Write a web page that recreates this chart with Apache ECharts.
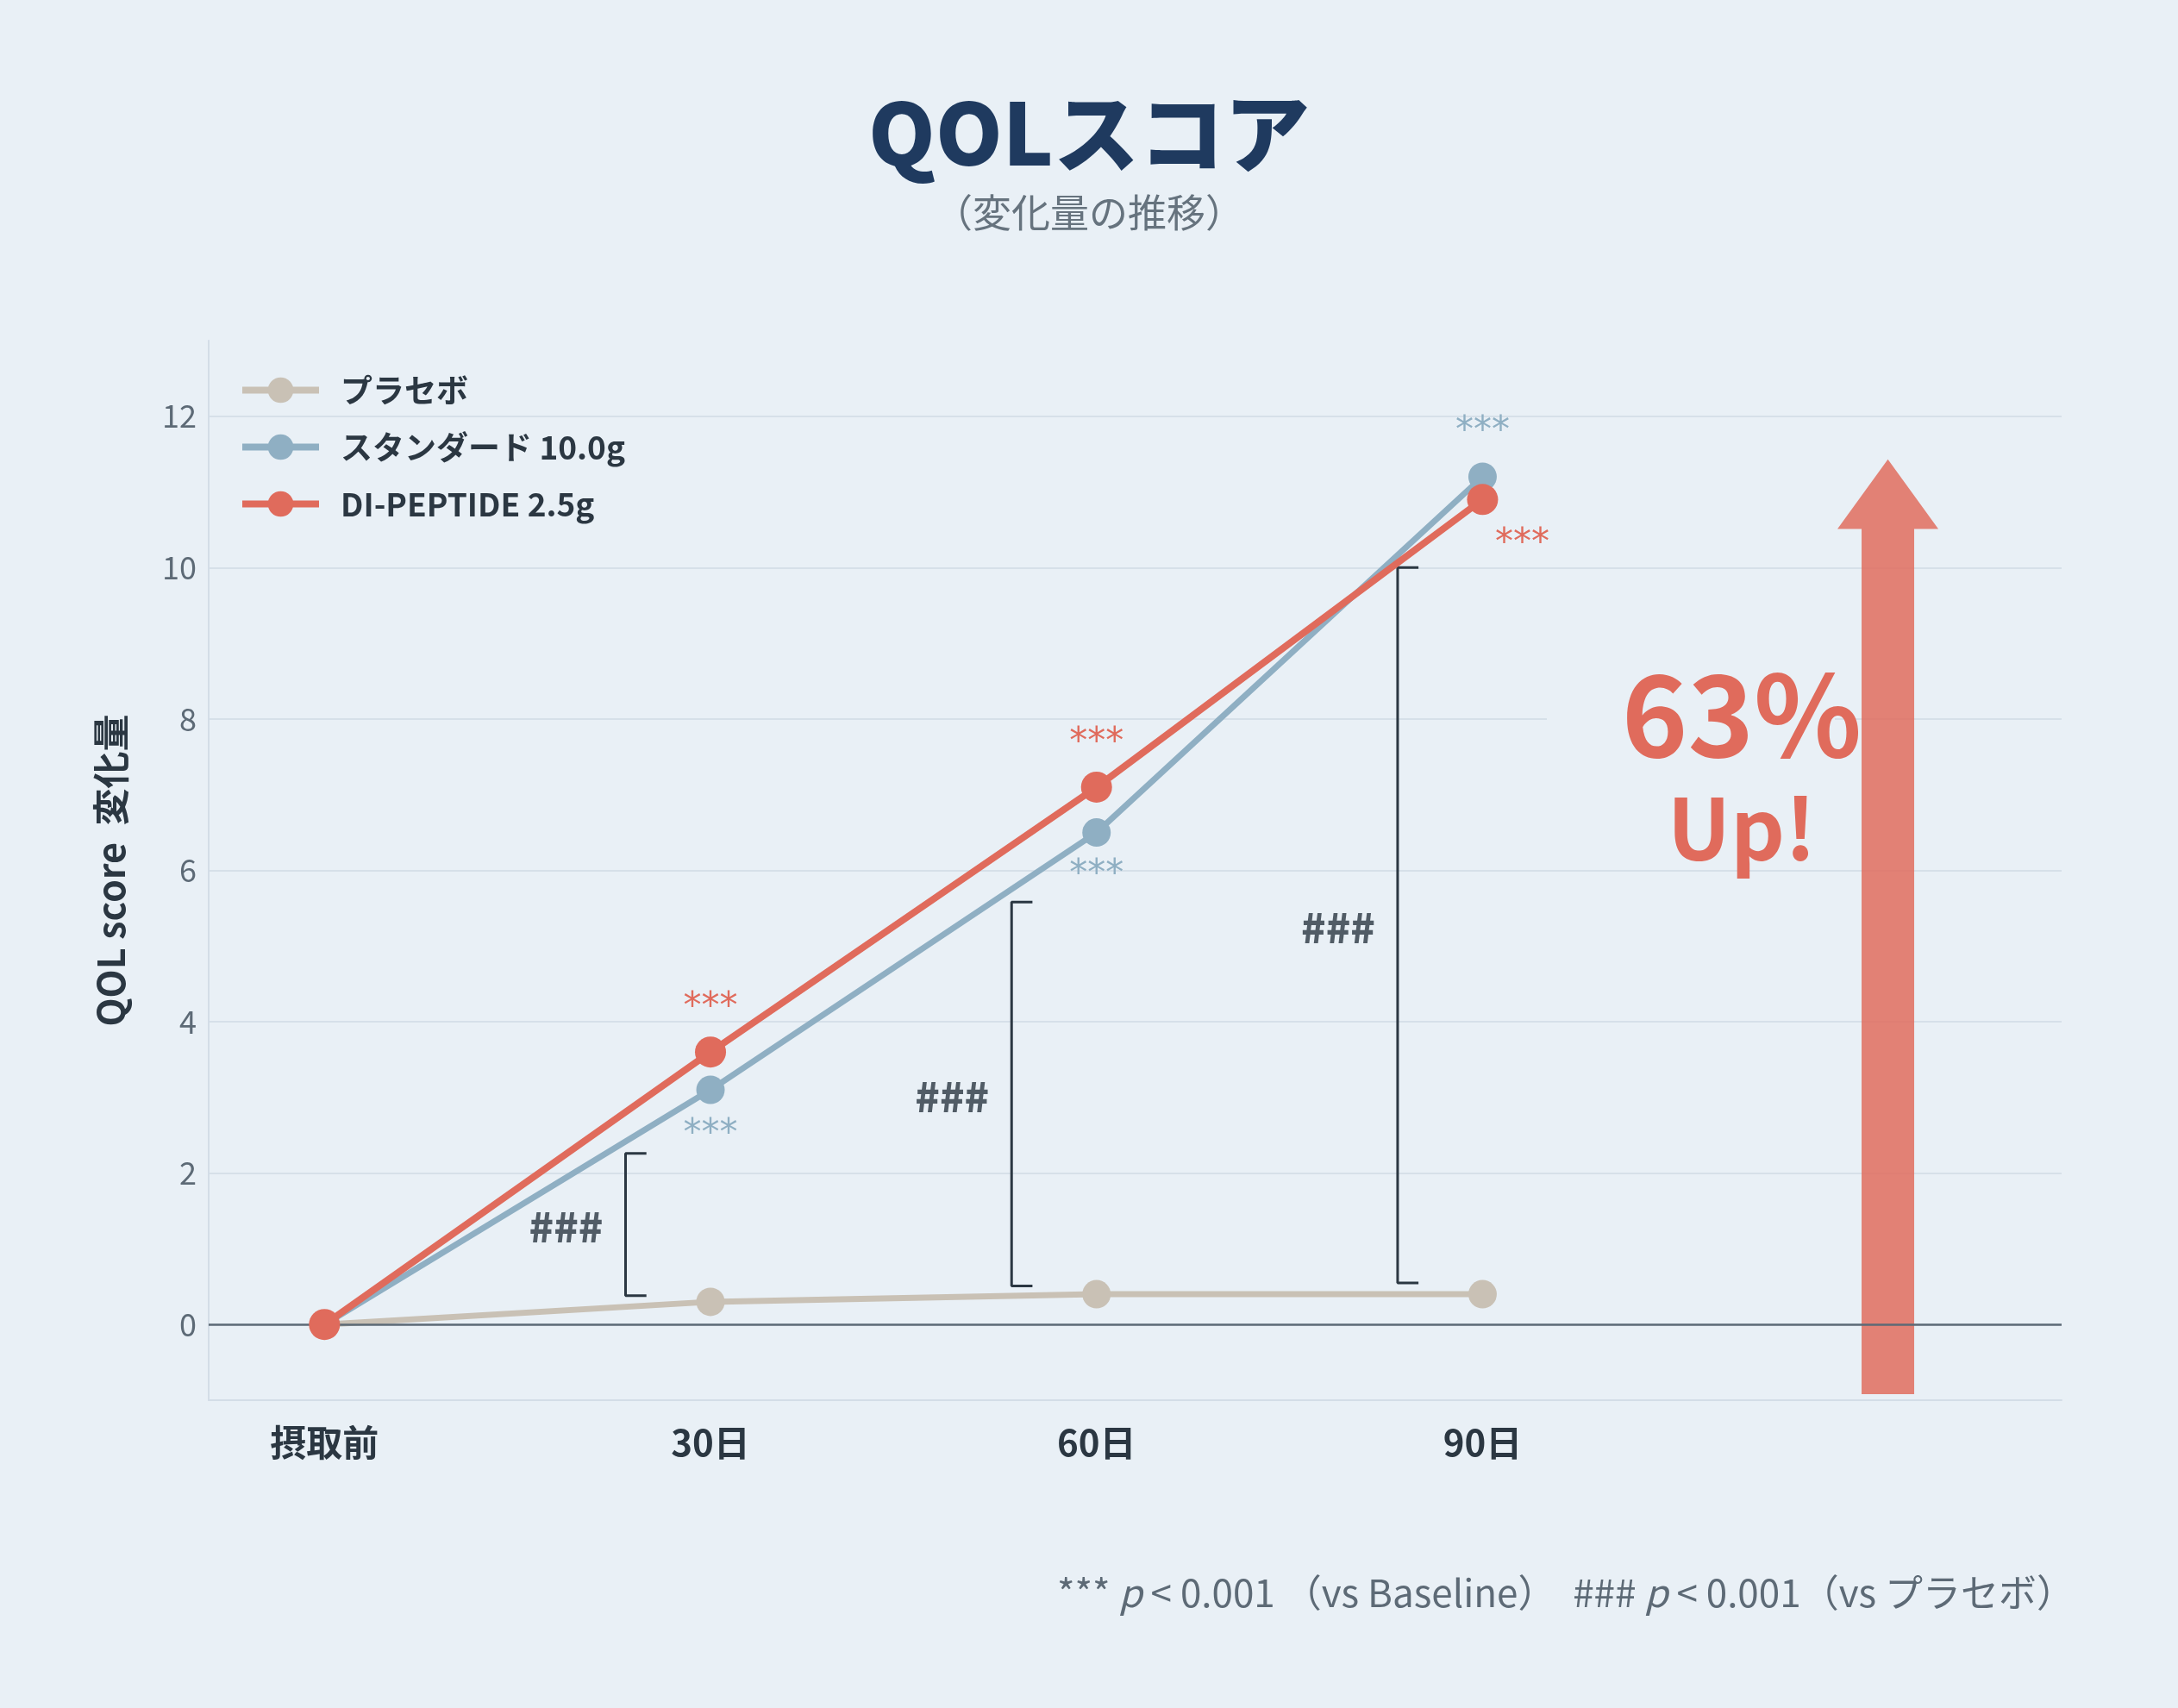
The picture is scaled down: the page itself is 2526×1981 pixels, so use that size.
<!DOCTYPE html>
<html>
<head>
<meta charset="utf-8">
<script src="https://cdn.jsdelivr.net/npm/echarts@6/dist/echarts.min.js"></script>
<style>
html,body{margin:0;padding:0;background:#e9f0f6;}
#chart{width:2526px;height:1981px;}
</style>
</head>
<body>
<div id="chart"></div>
<script>
// ---- data ----
const categories = ['摂取前', '30日', '60日', '90日'];
const seriesNames = ['プラセボ', 'スタンダード 10.0g', 'DI-PEPTIDE 2.5g'];
const placebo = [0, 0.3, 0.4, 0.4];
const standard = [0, 3.1, 6.5, 11.2];
const dipeptide = [0, 3.6, 7.1, 10.9];
const yTicks = [0, 2, 4, 6, 8, 10, 12];
const xTicks = [0, 1, 2, 3];
const sigStandard = ['', '***', '***', '***'];
const sigDipeptide = ['', '***', '***', '***'];
const bracketX = [0.78, 1.78, 2.78];
const bracketLow = [0.38, 0.51, 0.55];
const bracketHigh = [2.26, 5.58, 10.0];
const bracketText = '###';
const arrowX = 4.05;
const arrowBottom = -0.92;
const arrowHeadBase = 10.51;
const arrowTip = 11.43;
const upTexts = ['63%', 'Up!'];
const titleText = 'QOLスコア';
const subtitleText = '（変化量の推移）';
const yName = 'QOL score  変化量';
const footnote = '*** {i|p} < 0.001 （vs Baseline）  ### {i|p} < 0.001（vs プラセボ）';

// ---- styles ----
const FONT = "'Noto Sans CJK JP', 'Noto Sans', sans-serif";
const STAR_FONT = "'DejaVu Sans', sans-serif";
const C_PLACEBO = '#c9c1b5';
const C_STD = '#8fafc3';
const C_DI = '#e06b5c';
const C_DARK = '#2b3742';
const C_GRAY = '#5d6a76';
const C_GRID = '#d6e0e9';
const BG = '#e9f0f6';

// label offsets per point (style)
const stdOffsets = [null, [0, 52], [0, 49], [0, -52]];
const diOffsets = [null, [0, -51], [0, -51], [46, 52]];

function withLabels(values, sig, offsets, color) {
  return values.map((v, i) => {
    const item = { value: [i, v] };
    if (sig[i]) {
      item.label = {
        show: true, formatter: sig[i], position: 'inside', offset: offsets[i],
        color: color, fontSize: 42, fontFamily: STAR_FONT, textBorderWidth: 0
      };
    }
    return item;
  });
}

const TICK = 0.054;
const bracketSeries = bracketX.map((x, i) => ({
  type: 'line', silent: true, symbol: 'none', z: 1,
  lineStyle: { color: C_DARK, width: 3 },
  data: [[x + TICK, bracketHigh[i]], [x, bracketHigh[i]], [x, bracketLow[i]], [x + TICK, bracketLow[i]]],
  animation: false
}));

const option = {
  backgroundColor: BG,
  animation: false,
  textStyle: { fontFamily: FONT },
  title: {
    text: titleText, subtext: subtitleText, left: 'center', top: 100, itemGap: 20,
    textStyle: { fontSize: 99, fontWeight: 900, color: '#1f3a5f', fontFamily: FONT },
    subtextStyle: { fontSize: 45, color: '#66737e', fontFamily: FONT }
  },
  legend: {
    orient: 'vertical', left: 277, top: 434, padding: 0,
    itemWidth: 89, itemHeight: 37, itemGap: 29,
    data: seriesNames,
    lineStyle: { width: 8 },
    textStyle: { fontSize: 37, fontWeight: 'bold', color: C_DARK, fontFamily: FONT, padding: [0, 0, 0, 20] }
  },
  grid: { left: 242, right: 135, top: 395, bottom: 357, containLabel: false },
  xAxis: {
    type: 'value', min: -0.3, max: 4.5,
    axisLine: { show: true, onZero: false, lineStyle: { color: '#d3dde7', width: 2 } },
    axisTick: { show: false, customValues: xTicks },
    axisLabel: {
      customValues: xTicks, formatter: v => categories[Math.round(v)],
      fontSize: 42, fontWeight: 'bold', color: C_DARK, margin: 28, fontFamily: FONT
    },
    splitLine: { show: false }
  },
  yAxis: {
    type: 'value', min: -1, max: 13,
    name: yName, nameLocation: 'middle', nameRotate: 90, nameGap: 92,
    nameTextStyle: { fontSize: 43, fontWeight: 'bold', color: C_DARK, fontFamily: FONT },
    axisLine: { show: true, onZero: false, lineStyle: { color: '#d3dde7', width: 2 } },
    axisTick: { show: false, customValues: yTicks },
    axisLabel: { customValues: yTicks, fontSize: 36, color: C_GRAY, margin: 14, fontFamily: FONT },
    splitLine: { show: true, lineStyle: { color: C_GRID, width: 2 } }
  },
  graphic: [
    { type: 'rect', z: 1, silent: true, shape: { x: 1794, y: 770, width: 334, height: 120 }, style: { fill: BG } },
    { type: 'text', z: 10, x: 2020, y: 829, silent: true,
      style: { text: upTexts[0], fontSize: 130, fontWeight: 'bold', fill: C_DI, align: 'center', verticalAlign: 'middle', fontFamily: FONT } },
    { type: 'text', z: 10, x: 2020, y: 961, silent: true,
      style: { text: upTexts[1], fontSize: 98, fontWeight: 'bold', fill: C_DI, align: 'center', verticalAlign: 'middle', fontFamily: FONT } },
    { type: 'text', z: 10, x: 2406, y: 1847, silent: true,
      style: {
        text: footnote,
        fontSize: 44, fill: C_GRAY, align: 'right', verticalAlign: 'middle', fontFamily: FONT,
        rich: { i: { fontStyle: 'italic', fontSize: 44, fill: C_GRAY, fontFamily: FONT } }
      } }
  ],
  series: [
    {
      type: 'custom', silent: true, z: 1,
      data: [[arrowX, arrowBottom, arrowHeadBase, arrowTip]],
      renderItem: function (params, api) {
        const b = api.coord([api.value(0), api.value(1)]);
        const h = api.coord([api.value(0), api.value(2)]);
        const t = api.coord([api.value(0), api.value(3)]);
        const sw = 30.5, hw = 58.5;
        return {
          type: 'polygon',
          shape: { points: [[b[0] - sw, b[1]], [b[0] - sw, h[1]], [b[0] - hw, h[1]], [t[0], t[1]], [b[0] + hw, h[1]], [b[0] + sw, h[1]], [b[0] + sw, b[1]]] },
          style: { fill: 'rgba(224,107,92,0.84)' }
        };
      }
    },
    ...bracketSeries,
    {
      type: 'scatter', silent: true, symbolSize: 0, z: 5,
      data: bracketX.map((x, i) => [x, (bracketLow[i] + bracketHigh[i]) / 2]),
      label: { show: true, formatter: bracketText, position: 'inside', offset: [-69, 3], fontSize: 47, fontWeight: 900, color: C_DARK, fontFamily: FONT }
    },
    {
      name: seriesNames[0], type: 'line', z: 3,
      data: placebo.map((v, i) => [i, v]),
      symbol: 'circle', symbolSize: 33,
      lineStyle: { color: C_PLACEBO, width: 7 }, itemStyle: { color: C_PLACEBO },
      markLine: {
        silent: true, symbol: 'none', label: { show: false },
        lineStyle: { color: '#5c6a76', width: 2.5, type: 'solid' },
        data: [{ yAxis: 0 }]
      }
    },
    {
      name: seriesNames[1], type: 'line', z: 4,
      data: withLabels(standard, sigStandard, stdOffsets, C_STD),
      symbol: 'circle', symbolSize: 33,
      lineStyle: { color: C_STD, width: 7 }, itemStyle: { color: C_STD }
    },
    {
      name: seriesNames[2], type: 'line', z: 5,
      data: withLabels(dipeptide, sigDipeptide, diOffsets, C_DI),
      symbol: 'circle', symbolSize: 36,
      lineStyle: { color: C_DI, width: 8 }, itemStyle: { color: C_DI }
    }
  ]
};

const chart = echarts.init(document.getElementById('chart'));
chart.setOption(option);
</script>
</body>
</html>
